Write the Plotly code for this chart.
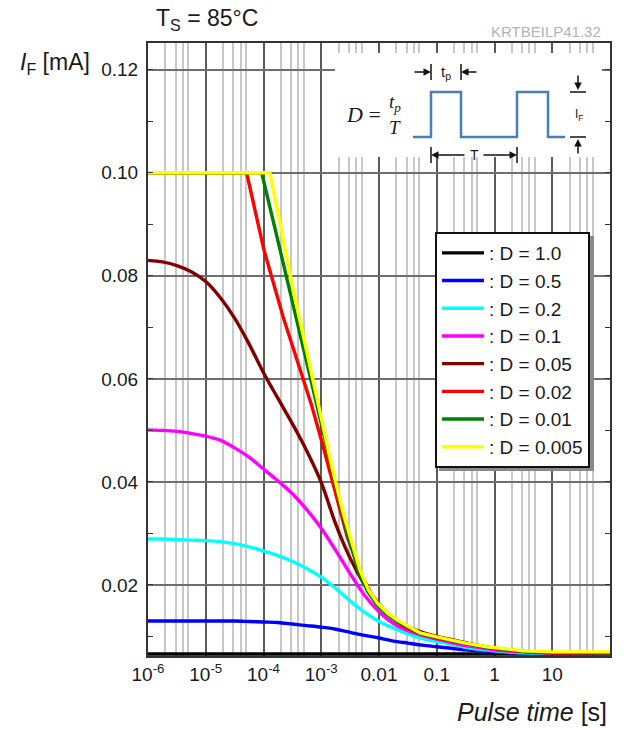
import plotly.graph_objects as go

# ---------------- data ----------------
LABELS = [": D = 1.0", ": D = 0.5", ": D = 0.2", ": D = 0.1",
          ": D = 0.05", ": D = 0.02", ": D = 0.01", ": D = 0.005"]
COLORS = ["#000000", "#0000ff", "#00ffff", "#ff00ff",
          "#800000", "#ff0000", "#008000", "#ffff00"]

# pulse times [s] at which the smooth curves were read
t_grid = [1e-6, 1.78e-6, 3.16e-6, 5.62e-6, 1e-5, 1.78e-5, 3.16e-5, 5.62e-5,
          1e-4, 1.78e-4, 3.16e-4, 5.62e-4, 1e-3, 1.78e-3, 3.16e-3, 5.62e-3,
          1e-2, 1.78e-2, 3.16e-2, 5.62e-2, 0.1, 0.178, 0.316, 0.562, 1, 3.16, 10, 100]

t_d1 = [1e-6, 100]
i_d1 = [0.0066, 0.0066]

i_d05 = [0.0130, 0.0130, 0.0130, 0.0130, 0.0130, 0.0130, 0.0130, 0.0129,
         0.0128, 0.0127, 0.0124, 0.0121, 0.0118, 0.0114, 0.0108, 0.0102,
         0.0097, 0.0091, 0.0087, 0.0083, 0.0080, 0.0077, 0.0074, 0.0072, 0.0070, 0.0068, 0.0068, 0.0068]

i_d02 = [0.0289, 0.0289, 0.0288, 0.0287, 0.0286, 0.0284, 0.0280, 0.0274,
         0.0266, 0.0257, 0.0246, 0.0232, 0.0215, 0.0193, 0.0169, 0.0147,
         0.0129, 0.0116, 0.0105, 0.0096, 0.0090, 0.0085, 0.0079, 0.0075, 0.0072, 0.0068, 0.0068, 0.0068]

i_d01 = [0.0501, 0.0500, 0.0498, 0.0494, 0.0489, 0.0481, 0.0466, 0.0448,
         0.0425, 0.0402, 0.0377, 0.0346, 0.0310, 0.0267, 0.0222, 0.0180,
         0.0148, 0.0125, 0.0111, 0.0102, 0.0095, 0.0088, 0.0082, 0.0078, 0.0074, 0.0070, 0.0068, 0.0068]

i_d005 = [0.0830, 0.0827, 0.0820, 0.0808, 0.0789, 0.0758, 0.0718, 0.0668,
          0.0612, 0.0562, 0.0513, 0.0460, 0.0399, 0.0318, 0.0252, 0.0200,
          0.0160, 0.0134, 0.0118, 0.0108, 0.0100, 0.0094, 0.0088, 0.0082, 0.0077, 0.0071, 0.0068, 0.0068]

t_d002 = [1e-6, 5.1e-5, 1.02e-4, 1.45e-4, 2.19e-4, 3.98e-4, 6.76e-4, 1.07e-3, 1.58e-3, 2.82e-3,
          5.13e-3, 7.59e-3, 1.10e-2, 1.55e-2, 2.51e-2, 5.13e-2, 0.1, 0.17, 0.316, 0.74, 1.58, 3.16, 10, 100]
i_d002 = [0.100, 0.100, 0.085, 0.079, 0.072, 0.063, 0.055, 0.047, 0.040, 0.0293,
          0.0216, 0.0180, 0.0157, 0.0140, 0.0121, 0.0105, 0.0097, 0.0092, 0.0086, 0.0079, 0.0074, 0.0071, 0.0068, 0.0068]

t_d001 = [1e-6, 9.3e-5, 1.7e-4, 3.8e-4, 6.5e-4, 1.02e-3, 1.74e-3, 2.82e-3, 4.47e-3, 6.31e-3, 8.91e-3,
          1.35e-2, 2.0e-2, 3.16e-2, 5.13e-2, 0.1, 0.17, 0.316, 0.74, 1.58, 3.16, 10, 100]
i_d001 = [0.100, 0.100, 0.0877, 0.071, 0.060, 0.0507, 0.0398, 0.030, 0.0225, 0.0188, 0.0163,
          0.0143, 0.0130, 0.0118, 0.0106, 0.0098, 0.0092, 0.0086, 0.0079, 0.0074, 0.0071, 0.0069, 0.0068]

t_d0005 = [1e-6, 1.29e-4, 3.4e-4, 7.9e-4, 1.58e-3, 2.4e-3, 3.16e-3, 4.68e-3, 6.61e-3, 9.33e-3, 1.41e-2,
           2.04e-2, 3.16e-2, 5.13e-2, 0.1, 0.17, 0.316, 0.74, 1.58, 3.16, 10, 100]
i_d0005 = [0.100, 0.100, 0.0765, 0.0575, 0.0423, 0.034, 0.0293, 0.0229, 0.019, 0.0165, 0.0145,
           0.0132, 0.0120, 0.0107, 0.0099, 0.0093, 0.0087, 0.0080, 0.0075, 0.0072, 0.0070, 0.0070]

X_TICKS = [1e-6, 1e-5, 1e-4, 1e-3, 1e-2, 1e-1, 1, 10]
X_TICKTEXT = ["10<sup>-6</sup>", "10<sup>-5</sup>", "10<sup>-4</sup>", "10<sup>-3</sup>",
              "0.01", "0.1", "1", "10"]
X_MINOR = [m * 10.0 ** e for e in range(-6, 2) for m in (2, 3, 4, 5)]
Y_TICKS = [0.02, 0.04, 0.06, 0.08, 0.10, 0.12]
Y_TICKTEXT = ["0.02", "0.04", "0.06", "0.08", "0.10", "0.12"]
Y_MINOR = [0.01, 0.03, 0.05, 0.07, 0.09, 0.11]

SERIES = [(t_d1, i_d1, "linear"), (t_grid, i_d05, "spline"), (t_grid, i_d02, "spline"),
          (t_grid, i_d01, "spline"), (t_grid, i_d005, "spline"), (t_d002, i_d002, "linear"),
          (t_d001, i_d001, "linear"), (t_d0005, i_d0005, "linear")]

# ---------------- figure ----------------
W, H = 626, 729
L, R, T, B = 148, 16, 43, 73
PW, PH = W - L - R, H - T - B


def PX(x):
    return (x - L) / PW


def PY(y):
    return (H - B - y) / PH


fig = go.Figure()
for (t, i, shape), name, col in zip(SERIES, LABELS, COLORS):
    fig.add_trace(go.Scatter(x=t, y=i, mode="lines", name=name,
                             line=dict(color=col, width=3.4, shape=shape, smoothing=0.8)))

FONT = "Arial, Liberation Sans, sans-serif"
fig.update_layout(
    width=W, height=H, margin=dict(l=L, r=R, t=T, b=B),
    paper_bgcolor="white", plot_bgcolor="white",
    font=dict(family=FONT, color="#1a1a1a"),
    showlegend=True,
    legend=dict(x=PX(435), y=PY(232), xanchor="left", yanchor="top",
                bgcolor="white", bordercolor="#111", borderwidth=2,
                font=dict(size=19, family=FONT, color="#1a1a1a"),
                itemwidth=42, tracegroupgap=0),
)
fig.update_xaxes(type="log", range=[-6, 2], tickmode="array", tickvals=X_TICKS, ticktext=X_TICKTEXT,
                 tickfont=dict(size=19), showgrid=True, gridcolor="#5a5a5a", gridwidth=1.5,
                 minor=dict(tickmode="array", tickvals=X_MINOR, showgrid=True,
                            gridcolor="#c8c8c8", gridwidth=2, ticks=""),
                 showline=True, linecolor="#333", linewidth=2, mirror=True, ticks="",
                 zeroline=False)
fig.update_yaxes(range=[0.0062, 0.1252], tickmode="array", tickvals=Y_TICKS, ticktext=Y_TICKTEXT,
                 tickfont=dict(size=19), showgrid=True, gridcolor="#6e6e6e", gridwidth=1.8,
                 ticks="inside", ticklen=5, tickcolor="#333",
                 minor=dict(tickmode="array", tickvals=Y_MINOR, ticks="inside", ticklen=5,
                            tickcolor="#333", showgrid=False),
                 showline=True, linecolor="#333", linewidth=2, mirror="allticks",
                 zeroline=False, ticklabelstandoff=4)

# ---------------- inset (pulse diagram) + legend shadow ----------------
shapes = []
shapes.append(dict(type="rect", xref="paper", yref="paper", x0=PX(439), x1=PX(594), y0=PY(471), y1=PY(236),
                   fillcolor="#8a8a8a", line=dict(width=0), layer="above"))
shapes.append(dict(type="rect", xref="paper", yref="paper", x0=PX(335), x1=PX(602), y0=PY(157), y1=PY(53),
                   fillcolor="white", line=dict(width=0), layer="above"))
wave = [(413, 137), (431, 137), (431, 92), (461, 92), (461, 137), (517, 137), (517, 92), (548, 92),
        (548, 137), (565, 137)]
path = "M " + " L ".join(f"{PX(x):.5f},{PY(y):.5f}" for x, y in wave)
shapes.append(dict(type="path", xref="paper", yref="paper", path=path,
                   line=dict(color="#4a7ebb", width=2.5), layer="above"))


def seg(x0, y0, x1, y1, w=1.5):
    shapes.append(dict(type="line", xref="paper", yref="paper", x0=PX(x0), y0=PY(y0), x1=PX(x1), y1=PY(y1),
                       line=dict(color="#111", width=w), layer="above"))


seg(431, 64, 431, 80)
seg(461, 64, 461, 80)
seg(431, 147, 431, 163)
seg(517, 147, 517, 163)
seg(570, 92, 586, 92)
seg(570, 137, 586, 137)
fig.update_layout(shapes=shapes)


def arrow(xh, yh, ax, ay):
    fig.add_annotation(xref="paper", yref="paper", x=PX(xh), y=PY(yh), ax=ax, ay=ay, text="",
                       showarrow=True, arrowhead=2, arrowsize=1, arrowwidth=1.5, arrowcolor="#111")


arrow(431, 72, -18, 0)
arrow(461, 72, 17, 0)
arrow(431, 155, 35, 0)
arrow(517, 155, -35, 0)
arrow(578, 90, 0, -16)
arrow(578, 139, 0, 16)


def text(x, y, s, size, xanchor="center", color="#1a1a1a", family=FONT):
    fig.add_annotation(xref="paper", yref="paper", x=PX(x), y=PY(y), text=s, showarrow=False,
                       xanchor=xanchor, yanchor="middle", font=dict(size=size, color=color, family=family))


SERIF = "Liberation Serif, Times New Roman, serif"
text(446, 72, "t<sub>p</sub>", 15)
text(474, 155, "T", 14)
text(579, 115, "I<sub>F</sub>", 12)
text(363, 114, "<i>D</i> =", 22, family=SERIF)
text(395, 103, "<i>t<sub>p</sub></i>", 19, family=SERIF)
text(395, 127, "<i>T</i>", 19, family=SERIF)

# ---------------- titles ----------------
text(154, 20, "T<sub>S</sub> = 85°C", 23, xanchor="left")
text(18, 63, "<i>I</i><sub>F</sub> [mA]", 23, xanchor="left")
text(603, 31, "KRTBEILP41.32", 15, xanchor="right", color="#b4b4b4")
text(609, 712, "<i>Pulse time</i> [s]", 25, xanchor="right")

fig.write_html("out.html", config={"displayModeBar": False},
               post_script="document.body.style.margin='0';document.body.style.padding='0';")
